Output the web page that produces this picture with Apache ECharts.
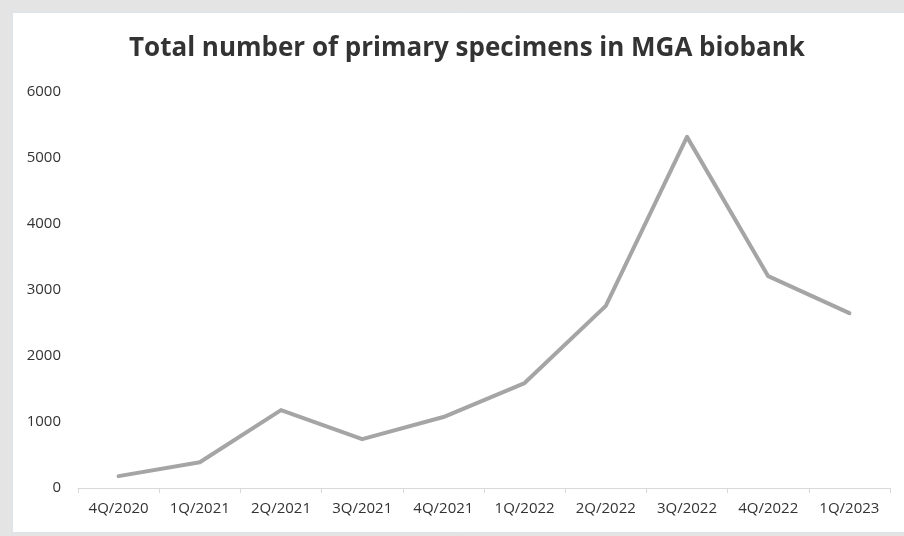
<!DOCTYPE html>
<html>
<head>
<meta charset="utf-8">
<script src="https://cdn.jsdelivr.net/npm/echarts@6/dist/echarts.min.js"></script>
<style>
  html, body { margin: 0; padding: 0; background: #e4e4e4; }
  #lineChart { width: 904px; height: 536px; }
</style>
</head>
<body>
<div id="lineChart"></div>
<script>
// 数据
const quarters = ["4Q/2020", "1Q/2021", "2Q/2021", "3Q/2021", "4Q/2021",
  "1Q/2022", "2Q/2022", "3Q/2022", "4Q/2022", "1Q/2023"];
const specimens = [180, 390, 1180, 740, 1075, 1590, 2760, 5320, 3210, 2650];

const labelFont = "'Open Sans', 'Noto Sans', sans-serif";

const option = {
  backgroundColor: "#e4e4e4",
  animation: false,
  graphic: [
    {
      type: "rect",
      shape: { x: 12.5, y: 12.5, width: 900, height: 520 },
      style: { fill: "#ffffff", stroke: "#dce3ea", lineWidth: 1 },
      z: -10,
    },
  ],
  title: {
    text: "Total number of primary specimens in MGA biobank",
    left: 124,
    top: 31,
    textStyle: {
      fontFamily: "'Open Sans', sans-serif",
      fontWeight: "bold",
      fontSize: 26,
      color: "#333333",
    },
  },
  grid: {
    left: 78,
    right: 14,
    top: 92,
    bottom: 48,
  },
  xAxis: {
    type: "category",
    data: quarters,
    boundaryGap: true,
    axisLine: { lineStyle: { color: "#d9d9d9", width: 1 } },
    axisTick: { show: true, length: 5, lineStyle: { color: "#d9d9d9" } },
    axisLabel: {
      color: "#333333",
      fontSize: 15,
      fontFamily: labelFont,
      margin: 13,
    },
  },
  yAxis: {
    type: "value",
    min: 0,
    max: 6000,
    interval: 1000,
    splitLine: { show: false },
    axisLine: { show: false },
    axisTick: { show: false },
    axisLabel: {
      color: "#333333",
      fontSize: 15,
      fontFamily: labelFont,
      margin: 17,
      formatter: (v) => String(v),
    },
  },
  series: [
    {
      type: "line",
      data: specimens,
      symbol: "none",
      lineStyle: { color: "#a5a5a5", width: 4, join: "round", cap: "round" },
    },
  ],
};

const chartObj = echarts.init(document.getElementById("lineChart"));
chartObj.setOption(option);
</script>
</body>
</html>
